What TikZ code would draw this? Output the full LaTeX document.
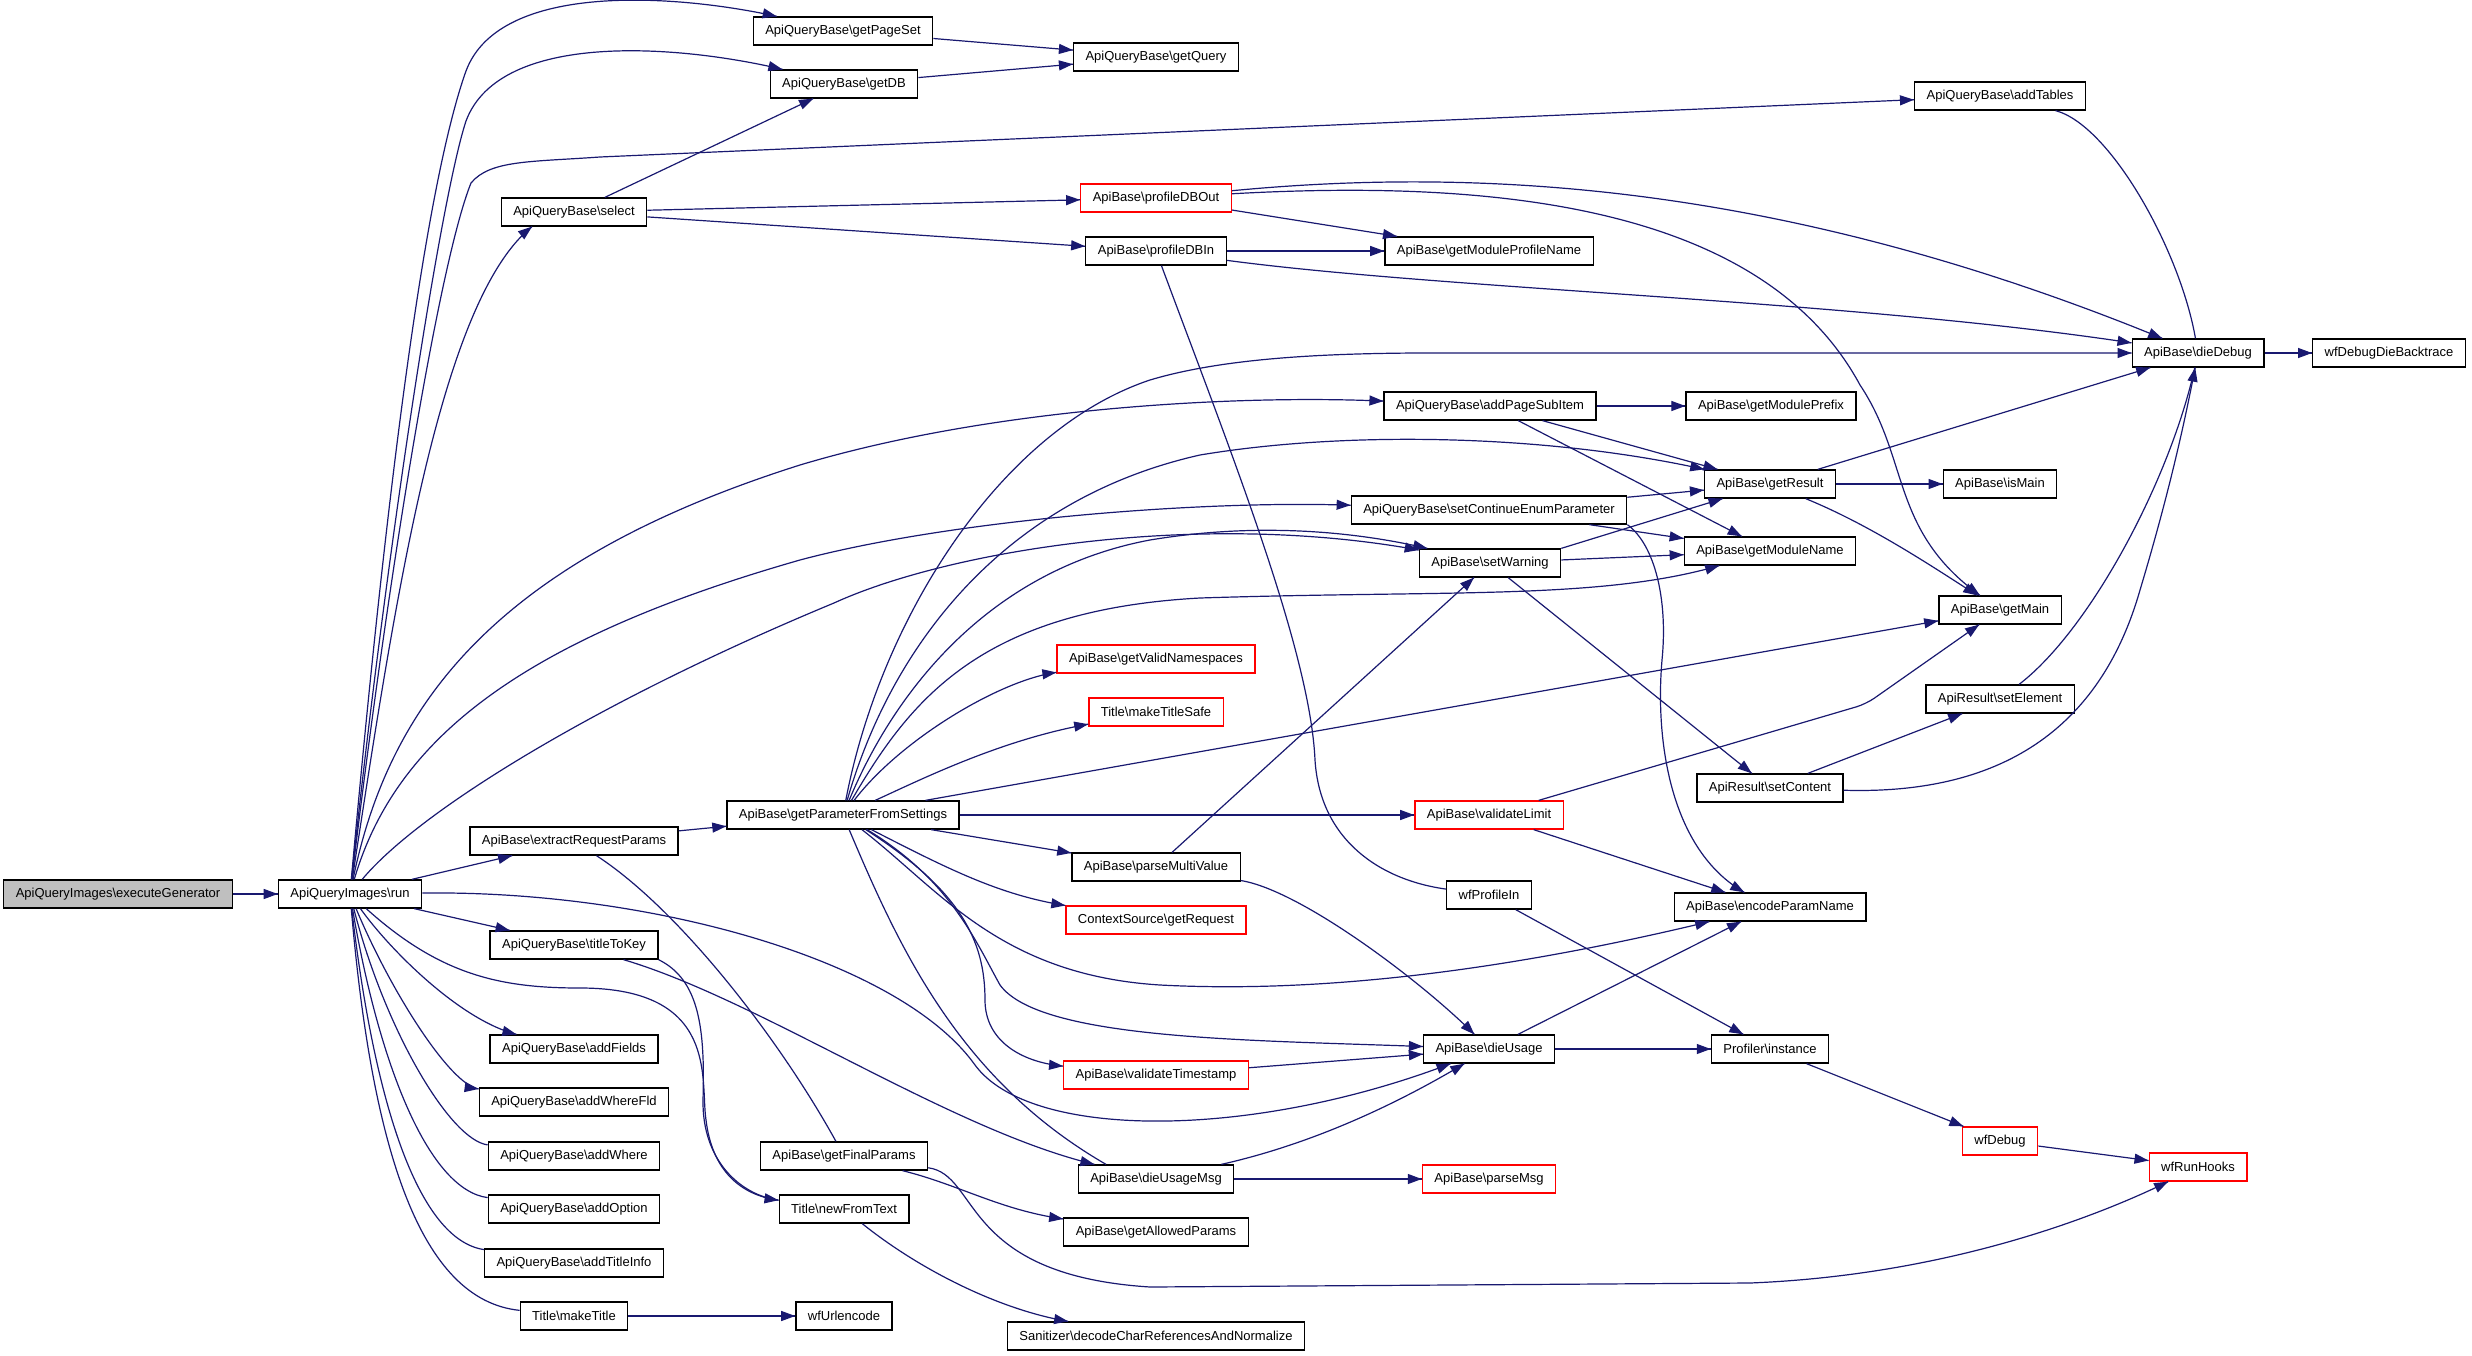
\documentclass[tikz,border=0pt]{standalone}
\usepackage{fontspec}
\setmainfont{Liberation Sans}
\usetikzlibrary{arrows.meta,
                 decorations.markings}
\definecolor{navy}{HTML}{191970}
\definecolor{rootgray}{HTML}{BFBFBF}
\newcommand{\bs}{\textbackslash}
\tikzset{->/.style = {color=navy, line width=1.2pt, decoration={markings, mark=at position 1 with {\arrow{Stealth[length=14pt, width=10pt, inset=0pt]}}}, postaction={decorate}}}
\tikzset{fn/.style = {draw, line width=1.3pt, minimum height=28pt, inner xsep=12pt, font=\fontsize{13}{15}\selectfont}}
\tikzset{fnred/.style = {fn, draw=red}}
\tikzset{fnroot/.style = {fn, fill=rootgray}}

\begin{document}
\begin{tikzpicture}[x=1pt, y=-1pt]
      \useasboundingbox (0,0) rectangle (2472,1356);
      \node [fnroot] (exec) at (118,894) {ApiQueryImages\bs executeGenerator};
      \node [fn] (run) at (350,894) {ApiQueryImages\bs run};
      \node [fn] (select) at (574,212) {ApiQueryBase\bs select};
      \node [fn] (extract) at (574,841) {ApiBase\bs extractRequestParams};
      \node [fn] (titleToKey) at (574,945) {ApiQueryBase\bs titleToKey};
      \node [fn] (addFields) at (574,1049) {ApiQueryBase\bs addFields};
      \node [fn] (addWhereFld) at (574,1102) {ApiQueryBase\bs addWhereFld};
      \node [fn] (addWhere) at (574,1156) {ApiQueryBase\bs addWhere};
      \node [fn] (addOption) at (574,1209) {ApiQueryBase\bs addOption};
      \node [fn] (addTitleInfo) at (574,1263) {ApiQueryBase\bs addTitleInfo};
      \node [fn] (makeTitle) at (574,1316) {Title\bs makeTitle};
      \node [fn] (getPageSet) at (843,31) {ApiQueryBase\bs getPageSet};
      \node [fn] (getDB) at (844,84) {ApiQueryBase\bs getDB};
      \node [fn] (getParamSettings) at (843,815) {ApiBase\bs getParameterFromSettings};
      \node [fn] (getFinalParams) at (844,1156) {ApiBase\bs getFinalParams};
      \node [fn] (newFromText) at (844,1209) {Title\bs newFromText};
      \node [fn] (wfUrlencode) at (844,1316) {wfUrlencode};
      \node [fn] (getQuery) at (1156,57) {ApiQueryBase\bs getQuery};
      \node [fnred] (profileDBOut) at (1156,198) {ApiBase\bs profileDBOut};
      \node [fn] (profileDBIn) at (1156,251) {ApiBase\bs profileDBIn};
      \node [fnred] (getValidNamespaces) at (1156,659) {ApiBase\bs getValidNamespaces};
      \node [fnred] (makeTitleSafe) at (1156,712) {Title\bs makeTitleSafe};
      \node [fn] (parseMultiValue) at (1156,867) {ApiBase\bs parseMultiValue};
      \node [fnred] (getRequest) at (1156,920) {ContextSource\bs getRequest};
      \node [fnred] (validateTimestamp) at (1156,1075) {ApiBase\bs validateTimestamp};
      \node [fn] (dieUsageMsg) at (1156,1179) {ApiBase\bs dieUsageMsg};
      \node [fn] (getAllowedParams) at (1156,1232) {ApiBase\bs getAllowedParams};
      \node [fn] (decodeChar) at (1156,1336) {Sanitizer\bs decodeCharReferencesAndNormalize};
      \node [fn] (getModuleProfileName) at (1489,251) {ApiBase\bs getModuleProfileName};
      \node [fn] (addPageSubItem) at (1490,406) {ApiQueryBase\bs addPageSubItem};
      \node [fn] (setContinue) at (1489,510) {ApiQueryBase\bs setContinueEnumParameter};
      \node [fn] (setWarning) at (1490,563) {ApiBase\bs setWarning};
      \node [fnred] (validateLimit) at (1489,815) {ApiBase\bs validateLimit};
      \node [fn] (wfProfileIn) at (1489,895) {wfProfileIn};
      \node [fn] (dieUsage) at (1489,1049) {ApiBase\bs dieUsage};
      \node [fnred] (parseMsg) at (1489,1179) {ApiBase\bs parseMsg};
      \node [fn] (getModulePrefix) at (1771,406) {ApiBase\bs getModulePrefix};
      \node [fn] (getResult) at (1770,484) {ApiBase\bs getResult};
      \node [fn] (getModuleName) at (1770,551) {ApiBase\bs getModuleName};
      \node [fn] (setContent) at (1770,788) {ApiResult\bs setContent};
      \node [fn] (encodeParamName) at (1770,907) {ApiBase\bs encodeParamName};
      \node [fn] (instance) at (1770,1049) {Profiler\bs instance};
      \node [fn] (addTables) at (2000,96) {ApiQueryBase\bs addTables};
      \node [fn] (isMain) at (2000,484) {ApiBase\bs isMain};
      \node [fn] (getMain) at (2000,610) {ApiBase\bs getMain};
      \node [fn] (setElement) at (2000,699) {ApiResult\bs setElement};
      \node [fnred] (wfDebug) at (2000,1141) {wfDebug};
      \node [fn] (dieDebug) at (2198,353) {ApiBase\bs dieDebug};
      \node [fnred] (wfRunHooks) at (2198,1167) {wfRunHooks};
      \node [fn] (backtrace) at (2389,353) {wfDebugDieBacktrace};

      \draw [->] (exec) -- (run);
      \draw [->] (run) .. controls (380,560) and (420,200) .. (466,71) .. controls (500,-20) and (680,-5) .. (getPageSet);
      \draw [->] (run) .. controls (385,560) and (440,200) .. (466,121) .. controls (500,30) and (680,45) .. (getDB);
      \draw [->] (run) .. controls (390,560) and (440,260) .. (471,183) .. controls (490,160) and (530,162) .. (600,157) -- (addTables);
      \draw [->] (run) .. controls (395,600) and (440,300) .. ([xshift=-42]select.south);
      \draw [->] (run) .. controls (390,700) and (500,560) .. (800,465) .. controls (1000,405) and (1250,395) .. (addPageSubItem);
      \draw [->] (run) .. controls (395,740) and (520,640) .. (800,560) .. controls (950,520) and (1200,500) .. (setContinue);
      \draw [->] (run) .. controls (420,810) and (600,700) .. (834,603) .. controls (950,550) and (1200,510) .. (setWarning);
      \draw [->] (run) -- (extract);
      \draw [->] (run) -- (titleToKey);
      \draw [->] (run) .. controls (650,890) and (900,960) .. (975,1065) .. controls (1030,1140) and (1250,1140) .. (dieUsage);
      \draw [->] (run) .. controls (440,975) and (500,988) .. (580,988) .. controls (720,988) and (700,1080) .. (706,1120) .. controls (712,1170) and (740,1195) .. (newFromText);
      \draw [->] (run) .. controls (390,950) and (460,1020) .. (addFields);
      \draw [->] (run) .. controls (390,990) and (450,1085) .. (addWhereFld);
      \draw [->] (run) .. controls (385,1030) and (450,1140) .. (addWhere);
      \draw [->] (run) .. controls (380,1070) and (430,1190) .. (addOption);
      \draw [->] (run) .. controls (375,1110) and (420,1240) .. (addTitleInfo);
      \draw [->] (run) .. controls (372,1150) and (420,1300) .. (makeTitle);
      \draw [->] (makeTitle) -- (wfUrlencode);

      \draw [->] (select) -- (getDB);
      \draw [->] (select) -- (profileDBOut);
      \draw [->] (select) -- (profileDBIn);
      \draw [->] (getPageSet) -- (getQuery);
      \draw [->] (getDB) -- (getQuery);
      \draw [->] (addTables) .. controls (2110,125) and (2180,250) .. (dieDebug);
      \draw [->] (profileDBOut) -- (getModuleProfileName);
      \draw [->] (profileDBOut) .. controls (1500,165) and (1800,190) .. (dieDebug);
      \draw [->] (profileDBOut) .. controls (1480,180) and (1760,200) .. (1860,385) .. controls (1910,460) and (1890,530) .. (getMain);
      \draw [->] (profileDBIn) -- (getModuleProfileName);
      \draw [->] (profileDBIn) .. controls (1450,290) and (1850,300) .. (dieDebug);
      \draw [->] (profileDBIn) .. controls (1230,450) and (1310,650) .. (1315,760) .. controls (1320,840) and (1380,880) .. (wfProfileIn);
      \draw [->] (dieDebug) -- (backtrace);

      \draw [->] (addPageSubItem) -- (getModulePrefix);
      \draw [->] (addPageSubItem) -- (getResult);
      \draw [->] (addPageSubItem) -- (getModuleName);
      \draw [->] (setContinue) -- (getResult);
      \draw [->] (setContinue) -- (getModuleName);
      \draw [->] (setContinue.south east) .. controls (1655,545) and (1668,600) .. (1662,660) .. controls (1655,740) and (1670,850) .. (encodeParamName);
      \draw [->] (setWarning.north east) -- (getResult);
      \draw [->] (setWarning) -- (getModuleName);
      \draw [->] (setWarning) -- (setContent);

      \draw [->] (extract) -- (getParamSettings);
      \draw [->] (extract) .. controls (680,910) and (780,1040) .. (getFinalParams);
      \draw [->] (getParamSettings) .. controls (880,620) and (1000,430) .. (1150,380) .. controls (1250,350) and (1400,353) .. (1500,353) -- (dieDebug);
      \draw [->] (getParamSettings) .. controls (890,650) and (1000,500) .. (1200,455) .. controls (1350,430) and (1550,435) .. (getResult);
      \draw [->] (getParamSettings) .. controls (895,690) and (990,570) .. (1150,540) .. controls (1270,520) and (1370,535) .. (setWarning);
      \draw [->] (getParamSettings) .. controls (910,700) and (980,610) .. (1200,598) .. controls (1450,590) and (1600,600) .. (getModuleName);
      \draw [->] (getParamSettings) .. controls (900,740) and (1000,680) .. (getValidNamespaces);
      \draw [->] (getParamSettings) .. controls (920,780) and (1000,740) .. (makeTitleSafe);
      \draw [->] (getParamSettings) -- (getMain);
      \draw [->] (getParamSettings) -- (validateLimit);
      \draw [->] (getParamSettings) -- (parseMultiValue);
      \draw [->] (getParamSettings) .. controls (950,870) and (1000,895) .. (getRequest);
      \draw [->] (getParamSettings) .. controls (940,890) and (1000,975) .. (1160,985) .. controls (1350,995) and (1550,960) .. (encodeParamName);
      \draw [->] (getParamSettings) .. controls (950,880) and (975,940) .. (1000,985) .. controls (1040,1040) and (1250,1040) .. (dieUsage);
      \draw [->] (getParamSettings) .. controls (960,890) and (985,940) .. (985,1000) .. controls (985,1040) and (1020,1062) .. (validateTimestamp);
      \draw [->] (getParamSettings) .. controls (900,950) and (960,1080) .. ([xshift=-50]dieUsageMsg.north);

      \draw [->] (titleToKey.south east) .. controls (700,980) and (705,1030) .. (703,1100) .. controls (702,1160) and (740,1195) .. (newFromText);
      \draw [->] (titleToKey) .. controls (760,1000) and (950,1130) .. (dieUsageMsg);
      \draw [->] (getFinalParams) .. controls (960,1185) and (1000,1210) .. (getAllowedParams);
      \draw [->] (getFinalParams) .. controls (980,1175) and (960,1275) .. (1150,1287) -- (1750,1283) .. controls (1950,1275) and (2100,1215) .. (wfRunHooks);
      \draw [->] (newFromText) .. controls (920,1270) and (1000,1310) .. (decodeChar);

      \draw [->] (parseMultiValue) -- (setWarning);
      \draw [->] (parseMultiValue) .. controls (1300,890) and (1420,980) .. (dieUsage);
      \draw [->, rounded corners=10pt] (validateLimit) -- (1866,704) -- (getMain);
      \draw [->] (validateLimit) -- (encodeParamName);
      \draw [->] (wfProfileIn) -- (instance);
      \draw [->] (dieUsage) -- (encodeParamName);
      \draw [->] (dieUsage) -- (instance);
      \draw [->] (validateTimestamp) -- (dieUsage);
      \draw [->] (dieUsageMsg) .. controls (1330,1140) and (1420,1090) .. (dieUsage);
      \draw [->] (dieUsageMsg) -- (parseMsg);

      \draw [->] (getResult) -- (dieDebug);
      \draw [->] (getResult) -- (isMain);
      \draw [->] (getResult) .. controls (1870,525) and (1930,565) .. (getMain);
      \draw [->] (setContent) -- (setElement);
      \draw [->] (setContent) .. controls (2000,795) and (2100,730) .. (2140,590) .. controls (2170,490) and (2185,420) .. (dieDebug);
      \draw [->] (setElement) .. controls (2090,630) and (2170,480) .. (dieDebug);
      \draw [->] (instance) -- (wfDebug);
      \draw [->] (wfDebug) -- (wfRunHooks);
    \end{tikzpicture}
\end{document}
